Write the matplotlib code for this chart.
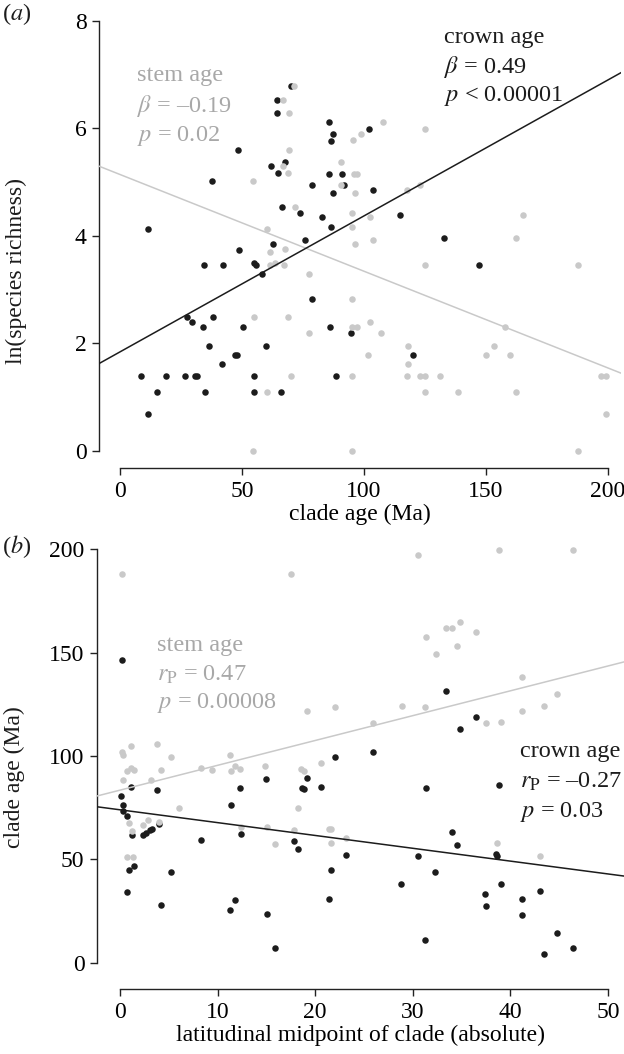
import numpy as np
import matplotlib
matplotlib.use("Agg")
import matplotlib.pyplot as plt

plt.rcParams['font.family'] = ['Liberation Serif', 'DejaVu Serif']
plt.rcParams['mathtext.fontset'] = 'stix'

# ---- data ----
# (a) clade age (Ma) vs ln(species richness)
crown_age_a = [70.0, 64.5, 64.5, 48.2, 85.5, 87.2, 86.4, 37.8, 61.8, 67.6, 64.9, 78.7,
               85.5, 91.0, 91.9, 87.4, 66.3, 73.8, 82.9, 86.4, 11.4, 75.7, 62.7, 48.8,
               101.9, 103.7, 114.9, 132.8, 147.3, 94.5, 120.0, 34.4, 42.1, 55.0, 55.6,
               58.3, 78.6, 27.3, 29.4, 38.2, 34.0, 50.5, 85.9, 36.6, 59.8, 47.1, 48.0,
               41.7, 8.6, 18.7, 26.6, 30.7, 31.7, 54.8, 88.6, 15.2, 34.8, 54.8, 66.0, 11.4]
crown_rich_a = [6.78, 6.52, 6.29, 5.59, 6.11, 5.89, 5.77, 5.02, 5.30, 5.37, 5.17, 4.94,
                5.15, 5.15, 4.94, 4.79, 4.53, 4.43, 4.35, 4.16, 4.12, 3.93, 3.85, 3.73,
                5.98, 4.86, 4.39, 3.95, 3.46, 2.20, 1.79, 3.46, 3.46, 3.50, 3.46,
                3.28, 2.83, 2.48, 2.40, 2.48, 2.30, 2.30, 2.30, 1.95, 1.95, 1.79, 1.79,
                1.61, 1.39, 1.39, 1.39, 1.39, 1.39, 1.39, 1.39, 1.10, 1.10, 1.10, 1.10, 0.69]
stem_age_a = [71.3, 66.7, 69.1, 95.6, 98.6, 69.1, 90.7, 66.8, 68.7, 95.9, 97.3, 54.4,
              90.7, 96.3, 71.9, 95.0, 95.0, 60.1, 96.4, 67.6, 61.5, 107.7, 125.0, 117.6,
              123.0, 102.3, 165.0, 103.7, 162.4, 125.0, 187.7, 95.0, 95.0, 97.0, 102.6,
              106.8, 157.7, 118.0, 101.5, 153.4, 149.9, 160.0, 118.0, 95.0, 117.6, 123.0,
              125.0, 131.0, 197.0, 199.3, 125.0, 138.7, 162.4, 199.3, 95.0, 187.7,
              61.5, 63.4, 67.3, 77.6, 54.8, 68.7, 77.6, 70.2, 60.2, 54.5]
stem_rich_a = [6.78, 6.52, 6.29, 5.78, 5.90, 5.59, 5.37, 5.30, 5.17, 5.15, 5.15, 5.02,
               4.94, 4.79, 4.53, 4.43, 4.16, 4.12, 3.84, 3.75, 3.70, 6.11, 5.98, 4.86,
               4.94, 4.35, 4.39, 3.93, 3.95, 3.46, 3.46, 2.83, 2.30, 2.30, 2.40,
               2.20, 2.30, 1.95, 1.79, 1.95, 1.79, 1.79, 1.61, 1.39, 1.39, 1.39,
               1.39, 1.39, 1.39, 1.39, 1.10, 1.10, 1.10, 0.69, 0.0, 0.0,
               3.46, 3.50, 3.46, 3.28, 2.48, 2.48, 2.20, 1.39, 1.10, 0.0]
# fitted lines: intercept, slope
crown_fit_a = (1.84, 0.0253)
stem_fit_a = (5.14, -0.0180)

# (b) latitudinal midpoint vs clade age
crown_lat_b = [0.24, 1.1, 15.0, 19.2, 22.0, 20.6, 18.6, 12.3, 3.8, 0.13, 0.34, 0.34,
               0.7, 1.2, 2.4, 2.7, 3.1, 3.3, 4.0, 8.3, 11.4, 12.4, 0.9, 1.4, 5.2, 18.8,
               17.8, 18.2, 23.2, 21.6, 21.4, 0.7, 4.2, 11.3, 11.8, 15.1, 15.9, 33.4,
               36.5, 34.8, 25.9, 38.8, 31.4, 34.0, 34.5, 30.5, 38.5, 38.6, 32.3, 28.8,
               39.0, 37.4, 37.5, 41.2, 41.2, 43.0, 44.8, 43.4, 46.4, 31.2]
crown_age_b = [146.4, 85.2, 88.7, 89.2, 99.7, 85.2, 84.4, 84.4, 83.5, 80.7, 76.2, 73.4,
               71.0, 61.8, 61.8, 62.9, 64.3, 64.7, 67.1, 59.4, 76.3, 62.3, 44.9, 47.0, 44.1, 83.9,
               58.8, 55.1, 52.0, 44.9, 30.9, 34.3, 27.9, 25.6, 30.6, 23.8, 7.1, 131.4,
               118.7, 113.2, 101.9, 86.0, 84.4, 63.1, 56.9, 51.5, 52.7, 51.7, 43.8, 38.3,
               38.0, 33.2, 27.4, 31.1, 23.0, 34.9, 14.6, 4.5, 7.1, 11.1]
stem_lat_b = [0.24, 17.5, 19.2, 22.0, 0.24, 0.34, 1.13, 3.8, 5.2, 11.3, 20.6, 0.7, 1.1,
              1.4, 4.2, 8.3, 9.4, 11.8, 12.3, 11.4, 14.9, 18.5, 18.8, 0.34, 3.2, 6.0,
              0.9, 2.4, 2.9, 4.0, 1.2, 12.4, 0.7, 1.3, 15.1, 15.9, 17.8, 18.2, 21.4,
              21.6, 21.6, 23.2, 30.5, 38.8, 46.4, 31.4, 33.4, 34.0, 34.8, 36.5, 34.5,
              32.4, 41.2, 44.8, 28.9, 31.2, 41.2, 43.4, 25.9, 37.5, 39.0, 38.6, 43.0]
stem_age_b = [187.8, 187.8, 121.7, 123.5, 102.0, 100.5, 105.0, 106.0, 99.7, 100.5, 96.6,
              92.9, 94.3, 93.2, 93.2, 94.3, 93.2, 95.3, 93.6, 92.9, 95.3, 93.6, 92.9,
              88.4, 88.4, 75.0, 67.5, 66.5, 69.1, 68.3, 63.9, 65.8, 51.4, 51.4, 65.8,
              57.5, 64.1, 75.0, 64.6, 64.9, 58.1, 60.5, 197.1, 199.7, 199.7, 157.5,
              161.8, 161.8, 164.6, 159.8, 153.1, 149.1, 138.2, 130.1, 124.2, 123.5,
              121.7, 124.2, 116.1, 116.1, 116.4, 58.1, 51.7]
crown_fit_b = (74.0, -0.62)
stem_fit_b = (83.5, 1.20)

BLACK = '#1c1c1c'
GREY = '#c9c9c9'
GREY_TXT = '#a8a8a8'
W, H = 624, 1054

fig = plt.figure(figsize=(W / 100, H / 100), dpi=100)


def px_axes(left, right, top, bottom):
    return fig.add_axes([left / W, 1 - bottom / H, (right - left) / W, (bottom - top) / H])


def style(ax, xb, yb, xt, yt):
    for s in ('top', 'right'):
        ax.spines[s].set_visible(False)
    for s in ('left', 'bottom'):
        ax.spines[s].set_color('#222222')
        ax.spines[s].set_linewidth(1.0)
    ax.spines['bottom'].set_bounds(*xb)
    ax.spines['left'].set_bounds(*yb)
    ax.set_xticks(xt)
    ax.set_yticks(yt)
    ax.tick_params(direction='out', length=5, width=1.0, color='#222222',
                   labelsize=17, pad=4)


def fit_line(ax, fit, color):
    lo, hi = ax.get_xlim()
    xs = np.array([lo, hi])
    ax.plot(xs, fit[0] + fit[1] * xs, color=color, lw=1.1, zorder=3)


# ---- panel (a) ----
ax1 = px_axes(99, 621, 10, 468)
ax1.scatter(crown_age_a, crown_rich_a, s=22, color=BLACK, lw=0, zorder=1)
ax1.scatter(stem_age_a, stem_rich_a, s=22, color=GREY, lw=0, zorder=2)
ax1.set_xlim(-8.6, 205.3)
ax1.set_ylim(-0.32, 8.2)
fit_line(ax1, stem_fit_a, GREY)
fit_line(ax1, crown_fit_a, BLACK)
style(ax1, (0, 200), (0, 8), [0, 50, 100, 150, 200], [0, 2, 4, 6, 8])
ax1.set_xlabel('clade age (Ma)', fontsize=17, labelpad=2)

tk = dict(transform=fig.transFigure, fontsize=17.5, va='center', ha='left')
fig.text(137 / W, 1 - 76 / H, 'stem age', color=GREY_TXT, **tk)
fig.text(137 / W, 1 - 106 / H, r'$\beta$ = –0.19', color=GREY_TXT, **tk)
fig.text(137 / W, 1 - 136 / H, r'$p$ = 0.02', color=GREY_TXT, **tk)
fig.text(444 / W, 1 - 37 / H, 'crown age', color=BLACK, **tk)
fig.text(444 / W, 1 - 67 / H, r'$\beta$ = 0.49', color=BLACK, **tk)
fig.text(444 / W, 1 - 96 / H, r'$p$ < 0.00001', color=BLACK, **tk)
fig.text(2 / W, 1 - 14 / H, r'($a$)', color=BLACK, **tk)
fig.text(16 / W, 1 - 271 / H, 'ln(species richness)', rotation=90, fontsize=17,
         ha='center', va='center', color=BLACK)

# ---- panel (b) ----
ax2 = px_axes(97, 624, 535, 989)
ax2.scatter(crown_lat_b, crown_age_b, s=22, color=BLACK, lw=0, zorder=1)
ax2.scatter(stem_lat_b, stem_age_b, s=22, color=GREY, lw=0, zorder=2)
ax2.set_xlim(-2.36, 51.64)
ax2.set_ylim(-12.6, 206.8)
fit_line(ax2, stem_fit_b, GREY)
fit_line(ax2, crown_fit_b, BLACK)
style(ax2, (0, 50), (0, 200), [0, 10, 20, 30, 40, 50], [0, 50, 100, 150, 200])
ax2.set_xlabel('latitudinal midpoint of clade (absolute)', fontsize=17, labelpad=2)

fig.text(157 / W, 1 - 646 / H, 'stem age', color=GREY_TXT, **tk)
fig.text(157 / W, 1 - 675 / H, r'$r_{\rm P}$ = 0.47', color=GREY_TXT, **tk)
fig.text(157 / W, 1 - 703 / H, r'$p$ = 0.00008', color=GREY_TXT, **tk)
fig.text(520 / W, 1 - 752 / H, 'crown age', color=BLACK, **tk)
fig.text(520 / W, 1 - 782 / H, r'$r_{\rm P}$ = –0.27', color=BLACK, **tk)
fig.text(520 / W, 1 - 812 / H, r'$p$ = 0.03', color=BLACK, **tk)
fig.text(2 / W, 1 - 547 / H, r'($b$)', color=BLACK, **tk)
fig.text(14 / W, 1 - 777 / H, 'clade age (Ma)', rotation=90, fontsize=17,
         ha='center', va='center', color=BLACK)

fig.savefig('out.png', dpi=100)
